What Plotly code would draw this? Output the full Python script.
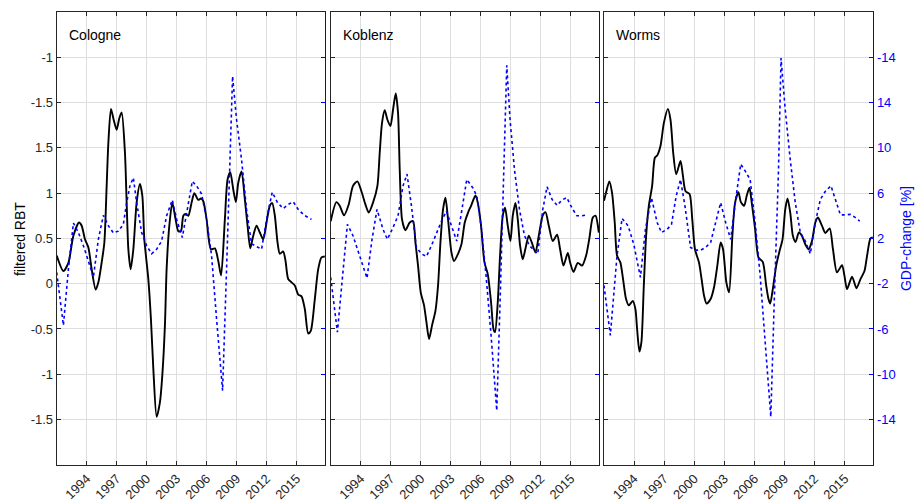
import plotly.graph_objects as go

# ---------------- data ----------------
cities = ["Cologne", "Koblenz", "Worms"]

cologne_rbt_t = [1991.0, 1991.67, 1992.17, 1992.67, 1993.23, 1993.5, 1993.83, 1994.17, 1994.5, 1994.9,
                 1995.17, 1995.5, 1995.77, 1996.0, 1996.17, 1996.43, 1996.7, 1997.0, 1997.27, 1997.5,
                 1997.83, 1998.0, 1998.17, 1998.4, 1998.67, 1999.0, 1999.33, 1999.57, 1999.77, 2000.17,
                 2000.43, 2000.67, 2001.0, 2001.33, 2001.57, 2001.83, 2002.0, 2002.27, 2002.57, 2002.9,
                 2003.17, 2003.43, 2003.67, 2003.9, 2004.17, 2004.5, 2004.77, 2005.17, 2005.43, 2005.67,
                 2006.0, 2006.43, 2006.83, 2007.17, 2007.45, 2007.83, 2008.1, 2008.37, 2008.67, 2008.93,
                 2009.17, 2009.5, 2009.83, 2010.1, 2010.37, 2010.67, 2011.0, 2011.33, 2011.67, 2012.0,
                 2012.33, 2012.57, 2012.83, 2013.1, 2013.33, 2013.67, 2013.9, 2014.17, 2014.5, 2014.83,
                 2015.17, 2015.5, 2015.83, 2016.17, 2016.43, 2016.83, 2017.17, 2017.5, 2017.83]
cologne_rbt = [0.31, 0.14, 0.23, 0.53, 0.675, 0.64, 0.49, 0.40, 0.16, -0.066,
               0.015, 0.235, 0.455, 1.08, 1.555, 1.93, 1.81, 1.70, 1.83, 1.89,
               1.445, 0.895, 0.38, 0.16, 0.38, 0.895, 1.10, 0.97, 0.49, 0.05,
               -0.39, -0.94, -1.47, -1.31, -1.01, -0.46, 0.16, 0.64, 0.895, 0.71,
               0.58, 0.58, 0.75, 0.77, 0.75, 0.895, 1.0, 0.925, 0.94, 0.91,
               0.71, 0.38, 0.39, 0.25, 0.09, 0.71, 1.15, 1.23, 1.04, 0.90,
               1.115, 1.24, 0.93, 0.64, 0.39, 0.53, 0.64, 0.565, 0.49, 0.675,
               0.86, 0.89, 0.75, 0.455, 0.33, 0.355, 0.25, 0.05, 0.015, -0.02,
               -0.12, -0.14, -0.28, -0.55, -0.52, -0.17, 0.16, 0.29, 0.30]

cologne_gdp_t = [1991.0, 1991.67, 1992.17, 1992.67, 1993.17, 1993.67, 1994.17, 1994.67, 1995.17, 1995.67,
                 1996.17, 1996.67, 1997.17, 1997.67, 1998.0, 1998.33, 1998.67, 1999.0, 1999.5, 2000.0,
                 2000.5, 2001.0, 2001.5, 2002.0, 2002.57, 2003.0, 2003.57, 2004.0, 2004.57, 2005.0,
                 2005.5, 2006.0, 2006.5, 2007.0, 2007.6, 2008.0, 2008.33, 2008.6, 2009.0, 2009.5,
                 2010.0, 2010.5, 2011.0, 2011.5, 2012.07, 2012.57, 2013.1, 2013.67, 2014.17, 2014.67,
                 2015.17, 2015.77, 2016.5]
cologne_gdp = [-1.0, -5.68, -0.72, 3.36, 2.52, 1.36, 0.0, -1.44, 1.92, 4.04,
               3.12, 2.48, 2.64, 3.24, 5.16, 6.64, 7.36, 5.16, 2.52, 1.36,
               0.64, 1.04, 1.76, 4.0, 5.4, 3.68, 2.08, 4.28, 7.04, 6.64,
               5.92, 3.68, 0.48, -5.12, -11.44, -0.72, 8.08, 16.32, 12.48, 8.96,
               4.56, 1.52, 1.28, 1.04, 4.0, 6.08, 5.16, 4.64, 5.0, 5.24,
               4.56, 4.04, 3.68]

koblenz_rbt_t = [1991.0, 1991.57, 1991.9, 1992.33, 1992.8, 1993.23, 1993.67, 1994.07, 1994.47, 1994.8,
                 1995.23, 1995.67, 1995.9, 1996.13, 1996.4, 1996.67, 1996.97, 1997.23, 1997.5, 1997.73,
                 1997.9, 1998.13, 1998.47, 1998.9, 1999.23, 1999.47, 1999.73, 2000.0, 2000.33, 2000.57,
                 2000.83, 2001.13, 2001.47, 2001.73, 2001.97, 2002.23, 2002.47, 2002.73, 2003.07, 2003.33,
                 2003.73, 2004.07, 2004.4, 2004.73, 2005.03, 2005.47, 2005.7, 2006.03, 2006.37, 2006.7,
                 2007.03, 2007.27, 2007.43, 2007.7, 2007.93, 2008.2, 2008.43, 2008.7, 2008.97, 2009.2,
                 2009.47, 2009.7, 2009.93, 2010.2, 2010.53, 2010.8, 2011.1, 2011.47, 2011.8, 2012.2,
                 2012.47, 2012.8, 2013.2, 2013.63, 2013.93, 2014.27, 2014.7, 2014.93, 2015.27, 2015.7,
                 2016.13, 2016.53, 2016.87, 2017.2, 2017.47, 2017.8]
koblenz_rbt = [0.69, 0.90, 0.86, 0.755, 0.875, 1.08, 1.13, 1.02, 0.875, 0.785,
               0.895, 1.08, 1.445, 1.775, 1.915, 1.81, 1.74, 1.92, 2.10, 1.885,
               1.26, 0.71, 0.59, 0.675, 0.69, 0.455, 0.20, -0.095, -0.24, -0.425,
               -0.61, -0.46, -0.30, -0.02, 0.455, 0.82, 0.95, 0.71, 0.345, 0.25,
               0.33, 0.435, 0.675, 0.785, 0.86, 0.975, 0.895, 0.64, 0.235, 0.105,
               -0.205, -0.50, -0.535, -0.205, 0.31, 0.75, 0.84, 0.64, 0.47, 0.75,
               0.89, 0.71, 0.42, 0.27, 0.42, 0.53, 0.455, 0.345, 0.53, 0.755,
               0.79, 0.64, 0.47, 0.54, 0.38, 0.20, 0.34, 0.235, 0.13, 0.23,
               0.20, 0.31, 0.51, 0.73, 0.75, 0.565]

koblenz_gdp_t = [1991.0, 1991.67, 1992.13, 1992.67, 1993.23, 1993.9, 1994.63, 1995.13, 1995.63, 1996.23,
                 1996.67, 1997.23, 1997.73, 1998.23, 1998.63, 1999.07, 1999.57, 2000.07, 2000.57, 2001.07,
                 2001.57, 2002.07, 2002.57, 2003.07, 2003.6, 2004.07, 2004.6, 2005.2, 2005.6, 2006.03,
                 2006.53, 2007.03, 2007.6, 2007.93, 2008.27, 2008.6, 2008.93, 2009.37, 2009.87, 2010.37,
                 2010.87, 2011.37, 2011.7, 2012.2, 2012.63, 2013.13, 2013.63, 2014.13, 2014.6, 2015.1,
                 2015.6, 2016.13, 2016.6]
koblenz_gdp = [-1.44, -6.28, -1.88, 3.24, 2.24, 0.48, -1.52, 1.92, 4.56, 2.8,
               1.92, 2.96, 4.0, 6.64, 7.68, 4.88, 1.2, 0.64, 0.4, 1.36,
               2.52, 3.52, 4.4, 3.12, 1.76, 4.28, 7.2, 6.48, 5.76, 3.12,
               -1.28, -6.56, -13.2, -3.64, 6.64, 17.28, 12.48, 8.08, 4.56, 2.24,
               1.36, 0.88, 0.64, 4.56, 6.56, 5.44, 4.92, 5.4, 5.6, 4.72,
               4.0, 4.0, 4.08]

worms_rbt_t = [1991.0, 1991.2, 1991.53, 1991.8, 1992.07, 1992.3, 1992.63, 1992.9, 1993.2, 1993.47,
               1993.87, 1994.13, 1994.3, 1994.53, 1994.73, 1994.97, 1995.2, 1995.47, 1995.8, 1996.07,
               1996.3, 1996.63, 1996.97, 1997.37, 1997.63, 1997.9, 1998.2, 1998.63, 1998.87, 1999.13,
               1999.53, 1999.8, 2000.07, 2000.47, 2000.73, 2000.97, 2001.23, 2001.63, 2001.97, 2002.3,
               2002.63, 2002.87, 2003.2, 2003.47, 2003.8, 2004.07, 2004.4, 2004.65, 2004.97, 2005.23,
               2005.5, 2005.73, 2006.07, 2006.4, 2006.83, 2007.17, 2007.4, 2007.57, 2007.83, 2008.17,
               2008.5, 2008.8, 2009.07, 2009.3, 2009.57, 2009.83, 2010.1, 2010.43, 2010.73, 2011.07,
               2011.4, 2011.73, 2012.07, 2012.33, 2012.73, 2013.07, 2013.5, 2013.83, 2014.23, 2014.73,
               2014.97, 2015.23, 2015.73, 2016.17, 2016.57, 2016.97, 2017.23, 2017.57, 2017.8]
worms_rbt = [0.915, 1.005, 1.13, 1.005, 0.675, 0.31, 0.235, 0.05, -0.17, -0.24,
             -0.19, -0.28, -0.50, -0.75, -0.645, -0.02, 0.53, 0.86, 1.08, 1.39,
             1.415, 1.52, 1.775, 1.93, 1.81, 1.445, 1.21, 1.355, 1.19, 1.02,
             0.99, 0.71, 0.38, 0.235, 0.05, -0.13, -0.22, -0.17, -0.04, 0.20,
             0.455, 0.38, 0.015, -0.095, 0.53, 0.895, 1.01, 0.90, 0.86, 0.97,
             1.06, 0.895, 0.60, 0.29, 0.24, -0.02, -0.17, -0.22, -0.06, 0.20,
             0.36, 0.49, 0.82, 0.94, 0.785, 0.53, 0.46, 0.565, 0.53, 0.435,
             0.38, 0.47, 0.675, 0.73, 0.64, 0.56, 0.61, 0.38, 0.125, 0.205,
             0.09, -0.06, 0.077, -0.05, 0.05, 0.14, 0.31, 0.50, 0.51]

worms_gdp_t = [1991.0, 1991.63, 1992.3, 1992.8, 1993.4, 1993.97, 1994.63, 1995.13, 1995.73, 1996.3,
               1996.73, 1997.3, 1997.73, 1998.2, 1998.63, 1999.07, 1999.63, 2000.13, 2000.63, 2001.13,
               2001.63, 2002.13, 2002.63, 2003.13, 2003.63, 2004.13, 2004.63, 2005.07, 2005.57, 2006.07,
               2006.57, 2007.07, 2007.63, 2007.97, 2008.4, 2008.65, 2009.07, 2009.57, 2010.07, 2010.57,
               2011.07, 2011.57, 2012.07, 2012.57, 2013.07, 2013.63, 2014.07, 2014.57, 2015.07, 2015.57,
               2016.07, 2016.5]
worms_gdp = [-2.16, -6.56, 0.48, 3.76, 3.12, 1.48, -1.44, 2.8, 5.6, 3.4,
             2.52, 2.8, 3.24, 5.76, 7.2, 4.88, 1.2, 0.96, 0.96, 1.2,
             1.64, 3.4, 5.16, 3.4, 1.92, 5.44, 8.56, 7.96, 7.2, 3.4,
             -1.28, -7.16, -13.76, -3.64, 8.08, 17.92, 13.36, 8.96, 5.16, 2.52,
             1.76, 0.64, 3.4, 5.44, 6.16, 6.64, 5.44, 4.08, 4.08, 4.12,
             3.84, 3.52]

year_ticks = [1994, 1997, 2000, 2003, 2006, 2009, 2012, 2015]
year_labels = ["1994", "1997", "2000", "2003", "2006", "2009", "2012", "2015"]
rbt_ticks = [-1.5, -1.0, -0.5, 0.0, 0.5, 1.0, 1.5, 2.0, 2.5]
rbt_labels = ["-1.5", "-1", "-0.5", "0", "0.5", "1", "1.5", "-1.5", "-1"]
gdp_ticks = [-14, -10, -6, -2, 2, 6, 10, 14, 18]
gdp_labels = ["-14", "-10", "-6", "-2", "2", "6", "10", "14", "-14"]

rbt_series = [(cologne_rbt_t, cologne_rbt), (koblenz_rbt_t, koblenz_rbt), (worms_rbt_t, worms_rbt)]
gdp_series = [(cologne_gdp_t, cologne_gdp), (koblenz_gdp_t, koblenz_gdp), (worms_gdp_t, worms_gdp)]

# ---------------- layout ----------------
W, H = 915, 502
px_left = [56.7, 330.7, 604.0]
px_right = [325.0, 599.3, 873.3]
px_top, px_bot = 12.0, 466.7
DARK = "#262626"
BLUE = "#0000ff"
GRID = "#dedede"
FONT = "Liberation Sans, Arial, sans-serif"

fig = go.Figure()
layout = dict(width=W, height=H, margin=dict(l=0, r=0, t=0, b=0),
              paper_bgcolor="white", plot_bgcolor="white", showlegend=False,
              font=dict(family=FONT, size=13, color=DARK))

ydom = [1 - px_bot / H, 1 - px_top / H]
for i in range(3):
    n = i + 1
    xa = "xaxis" if n == 1 else f"xaxis{n}"
    ya = "yaxis" if n == 1 else f"yaxis{n}"
    yr = f"yaxis{n + 3}"
    xref = "x" if n == 1 else f"x{n}"
    yref = "y" if n == 1 else f"y{n}"
    yrref = f"y{n + 3}"
    layout[xa] = dict(domain=[px_left[i] / W, px_right[i] / W], anchor=yref,
                      range=[1991, 2017.85], tickvals=year_ticks, ticktext=year_labels,
                      tickangle=-45, ticks="inside", ticklen=4, tickcolor=DARK,
                      showline=True, linecolor=DARK, linewidth=1, mirror="ticks",
                      showgrid=True, gridcolor=GRID, gridwidth=1, zeroline=False,
                      tickfont=dict(size=13, color=DARK, family=FONT))
    layout[ya] = dict(domain=ydom, anchor=xref, range=[-2, 3],
                      tickvals=rbt_ticks, ticktext=rbt_labels, showticklabels=(n == 1),
                      ticks="inside", ticklen=4, tickcolor=DARK,
                      showline=True, linecolor=DARK, linewidth=1,
                      showgrid=True, gridcolor=GRID, gridwidth=1, zeroline=False,
                      tickfont=dict(size=13, color=DARK, family=FONT))
    layout[yr] = dict(overlaying=yref, anchor=xref, side="right", range=[-18, 22],
                      tickvals=gdp_ticks, ticktext=gdp_labels, showticklabels=(n == 3),
                      ticks="inside", ticklen=4, tickcolor=BLUE,
                      showline=True, linecolor=BLUE, linewidth=1,
                      showgrid=False, zeroline=False,
                      tickfont=dict(size=13, color=BLUE, family=FONT))

    t, v = rbt_series[i]
    fig.add_trace(go.Scatter(x=t, y=v, mode="lines", xaxis=xref, yaxis=yref,
                             line=dict(color="black", width=1.9, shape="spline", smoothing=0.7),
                             hoverinfo="skip"))
    t2, g = gdp_series[i]
    fig.add_trace(go.Scatter(x=t2, y=g, mode="lines", xaxis=xref, yaxis=yrref,
                             line=dict(color=BLUE, width=1.6, dash="dot"),
                             hoverinfo="skip"))

annotations = []
for i, name in enumerate(cities):
    annotations.append(dict(text=name, x=(px_left[i] + 10) / W, y=1 - 35 / H,
                            xref="paper", yref="paper", xanchor="left", yanchor="middle",
                            showarrow=False, font=dict(size=14, color="black", family=FONT)))
annotations.append(dict(text="filtered RBT", x=20 / W, y=1 - 240 / H, xref="paper", yref="paper",
                        xanchor="center", yanchor="middle", textangle=-90, showarrow=False,
                        font=dict(size=14, color="black", family=FONT)))
annotations.append(dict(text="GDP-change [%]", x=906 / W, y=1 - 240 / H, xref="paper", yref="paper",
                        xanchor="center", yanchor="middle", textangle=-90, showarrow=False,
                        font=dict(size=14, color=BLUE, family=FONT)))
layout["annotations"] = annotations

fig.update_layout(**layout)
fig.write_html("out.html", config={"displayModeBar": False},
               post_script="document.body.style.margin='0px';document.body.style.overflow='hidden';")
